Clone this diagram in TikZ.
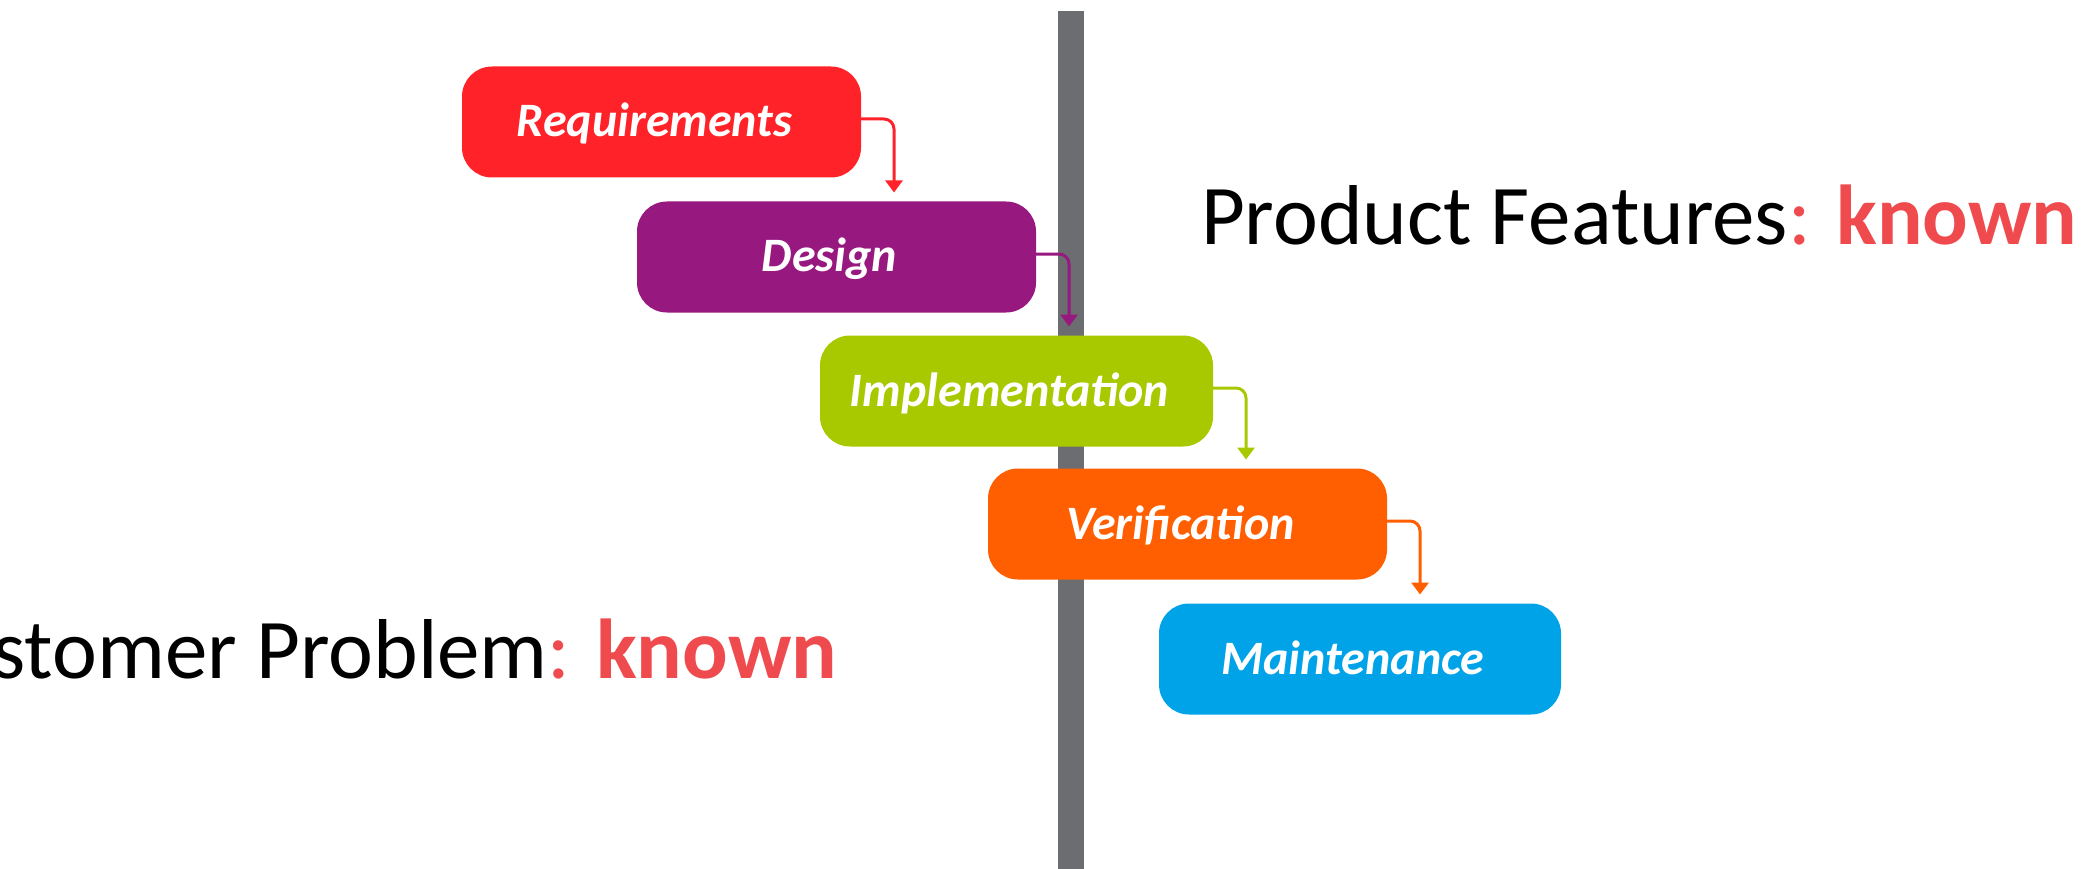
\documentclass[tikz,border=0pt]{standalone}
\usepackage{fontspec}
\setmainfont{Carlito}
\usetikzlibrary{arrows.meta,calc}

\definecolor{reqred}{HTML}{FF2329}
\definecolor{despurple}{HTML}{97187F}
\definecolor{implgreen}{HTML}{A8C800}
\definecolor{verorange}{HTML}{FF5F00}
\definecolor{mainblue}{HTML}{00A3E8}
\definecolor{bargray}{HTML}{6C6D71}
\definecolor{knownred}{HTML}{EF4B4E}

\begin{document}
\begin{tikzpicture}[x=1pt,y=-1pt,
  phase/.style={rounded corners=30pt, minimum width=399pt, minimum height=111pt,
    inner sep=0pt, outer sep=0pt, text=white,
    font=\fontsize{48}{50}\selectfont\bfseries\itshape,
    text height=30pt, text depth=0pt},
  flow/.style={line width=3pt, rounded corners=10pt,
    -{Triangle[length=12pt,width=17pt]}},
  caption/.style={inner sep=0pt, outer sep=0pt, font=\fontsize{85}{90}\selectfont}]

  \useasboundingbox (0,0) rectangle (2091,869);

  % divider between problem side and product side
  \fill[bargray] (1058,11) rectangle (1084,869);

  % waterfall phases
  \node[phase, fill=reqred]    (req)  at (661.5,122) {\hspace*{-14pt}Requirements};
  \node[phase, fill=despurple] (des)  at (836.5,257) {\hspace*{-14pt}Design};
  \node[phase, fill=implgreen, minimum width=393pt] (impl) at (1016.5,391) {\hspace*{-14pt}Implementation};
  \node[phase, fill=verorange] (ver)  at (1187.5,524) {\hspace*{-14pt}Verification};
  \node[phase, fill=mainblue, minimum width=402pt]  (main) at (1360,659) {\hspace*{-14pt}Maintenance};

  % step-down connectors
  \draw[flow, reqred]    ([yshift=3pt]req.east)  -| ($(req.east |- des.north)+(33pt,9pt)$);
  \draw[flow, despurple] ([yshift=3pt]des.east)  -| ($(des.east |- impl.north)+(33pt,9pt)$);
  \draw[flow, implgreen] ([yshift=3pt]impl.east) -| ($(impl.east |- ver.north)+(33pt,9pt)$);
  \draw[flow, verorange] ([yshift=3pt]ver.east)  -| ($(ver.east |- main.north)+(33pt,9pt)$);

  % side captions
  \node[caption, anchor=base west] (feat) at (1201,244)
    {Product Features\textcolor{knownred}{: \textbf{known}}};
  \node[caption, anchor=base east] (prob) at (837,678)
    {Customer Problem\textcolor{knownred}{: \textbf{known}}};
\end{tikzpicture}
\end{document}
